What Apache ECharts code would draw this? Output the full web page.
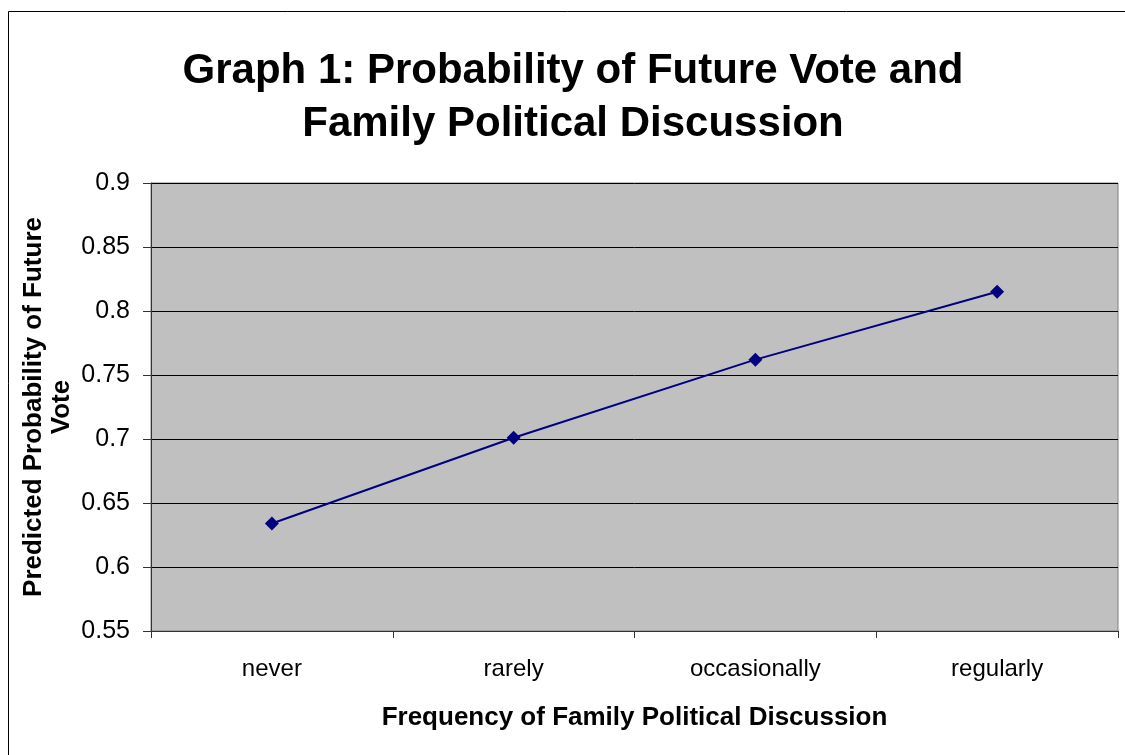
<!DOCTYPE html>
<html>
<head>
<meta charset="utf-8">
<script src="https://cdn.jsdelivr.net/npm/echarts@6/dist/echarts.min.js"></script>
<style>
  html, body { margin: 0; padding: 0; background: #fff; }
  #chart { width: 1125px; height: 755px; }
</style>
</head>
<body>
<div id="chart"></div>
<script>
// Discussion frequency categories and predicted probability of voting
const categories = ['never', 'rarely', 'occasionally', 'regularly'];
const probabilities = [0.634, 0.701, 0.762, 0.815];
const yTicks = [0.55, 0.6, 0.65, 0.7, 0.75, 0.8, 0.85, 0.9];

const FONT = '"Liberation Sans", Arial, sans-serif';
const chart = echarts.init(document.getElementById('chart'));

chart.setOption({
  backgroundColor: '#ffffff',
  animation: false,
  title: {
    text: 'Graph 1: Probability of Future Vote and\nFamily Political Discussion',
    left: 568,
    textAlign: 'center',
    top: 40,
    textStyle: {
      fontFamily: FONT,
      fontSize: 42,
      fontWeight: 'bold',
      color: '#000',
      lineHeight: 53
    }
  },
  graphic: [{
    type: 'rect',
    shape: { x: 8.5, y: 11.5, width: 1130, height: 760 },
    style: { fill: 'none', stroke: '#000', lineWidth: 1 },
    silent: true
  }],
  grid: {
    left: 151,
    right: 7,
    top: 183,
    bottom: 124,
    outerBoundsMode: 'none',
    containLabel: false,
    show: true,
    backgroundColor: '#C0C0C0',
    borderColor: '#808080',
    borderWidth: 1
  },
  xAxis: {
    type: 'category',
    data: categories,
    boundaryGap: true,
    name: 'Frequency of Family Political Discussion',
    nameLocation: 'middle',
    nameGap: 74,
    nameTextStyle: { fontFamily: FONT, fontSize: 26, fontWeight: 'bold', color: '#000' },
    axisLine: { lineStyle: { color: '#333', width: 1 } },
    axisTick: { show: true, alignWithLabel: false, length: 7, lineStyle: { color: '#333' } },
    axisLabel: { fontFamily: FONT, fontSize: 24, color: '#000', margin: 26 },
    splitLine: { show: false }
  },
  yAxis: {
    type: 'value',
    min: 0.55,
    max: 0.9,
    interval: 0.05,
    name: 'Predicted Probability of Future\nVote',
    nameLocation: 'middle',
    nameGap: 75,
    nameMoveOverlap: false,
    nameRotate: 90,
    nameTextStyle: { fontFamily: FONT, fontSize: 26, fontWeight: 'bold', color: '#000', lineHeight: 28 },
    axisLine: { show: true, lineStyle: { color: '#333', width: 1 } },
    axisTick: { show: true, length: 8, lineStyle: { color: '#333' } },
    axisLabel: {
      fontFamily: FONT, fontSize: 25, color: '#000', margin: 21,
      formatter: function (v) {
        const hit = yTicks.find(t => Math.abs(t - v) < 1e-9);
        return hit === undefined ? '' : String(hit);
      }
    },
    splitLine: { show: true, lineStyle: { color: '#000', width: 1 } }
  },
  series: [{
    type: 'line',
    data: probabilities,
    symbol: 'diamond',
    symbolSize: 14,
    lineStyle: { color: '#000080', width: 2 },
    itemStyle: { color: '#000080' },
    z: 5
  }]
});
</script>
</body>
</html>
